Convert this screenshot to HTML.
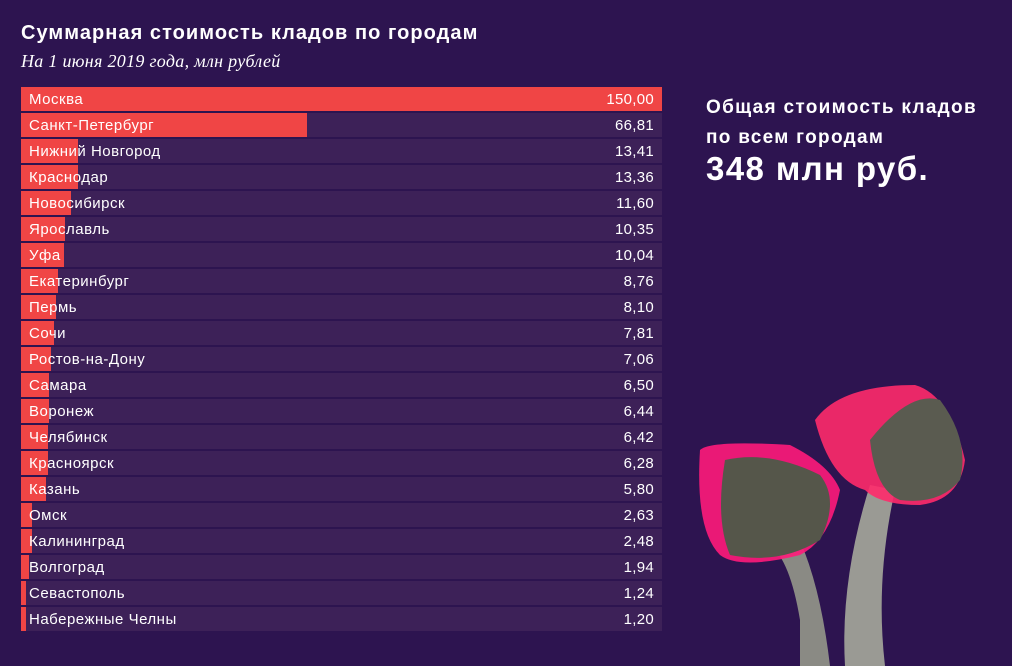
<!DOCTYPE html>
<html><head><meta charset="utf-8"><style>
body{margin:0;width:1012px;height:666px;background:#2d1450;font-family:"Liberation Sans",sans-serif;overflow:hidden;position:relative;color:#fff}
h1{position:absolute;left:21px;top:22px;margin:0;font-size:20px;font-weight:bold;letter-spacing:1.05px}
.sub{position:absolute;left:21px;top:51px;font-family:"Liberation Serif",serif;font-style:italic;font-size:18px;letter-spacing:0.3px}
.row{position:absolute;left:21px;width:641px;height:24px;background:#3d2158}
.bar{position:absolute;left:0;top:0;height:24px;background:#f04545}
.l{position:absolute;left:8px;top:4px;font-size:15px;letter-spacing:0.5px}
.v{position:absolute;right:8px;top:4px;font-size:15px;letter-spacing:0.3px}
.t{position:absolute;left:706px;top:93px;font-size:19px;font-weight:bold;line-height:30px;letter-spacing:1.3px}
.big{position:absolute;left:706px;top:150px;font-size:33px;font-weight:bold;letter-spacing:1.4px}
</style></head><body>
<h1>Суммарная стоимость кладов по городам</h1>
<div class="sub">На 1 июня 2019 года, млн рублей</div>
<div id="c"></div>
<div class="t">Общая стоимость кладов<br>по всем городам</div>
<div class="big">348 млн руб.</div>
<svg style="position:absolute;left:680px;top:380px" width="332" height="286">
<path d="M120 240 Q110 180 90 165 L115 150 Q140 200 150 286 L120 286Z" fill="#8a8a84"/>
<path d="M165 286 Q160 200 190 105 L215 110 Q195 200 205 286Z" fill="#9a9a94"/>
<path d="M20 70 Q30 60 110 65 Q150 85 160 110 Q150 160 120 175 Q60 190 40 175 Q15 150 20 70Z" fill="#ff1a7a" opacity="0.9"/>
<path d="M45 80 Q90 70 140 95 Q160 120 140 160 Q100 185 50 175 Q35 140 45 80Z" fill="#55564a"/>
<path d="M135 40 Q160 5 235 5 Q270 15 285 80 Q280 120 240 125 Q200 125 185 110 Q150 100 135 40Z" fill="#ff2a6a" opacity="0.9"/>
<path d="M190 60 Q230 10 260 20 Q290 60 280 100 Q260 125 220 120 Q195 110 190 60Z" fill="#5a5b50"/>
</svg>
<script>
var d=[["Москва","150,00"],["Санкт-Петербург","66,81"],["Нижний Новгород","13,41"],["Краснодар","13,36"],["Новосибирск","11,60"],["Ярославль","10,35"],["Уфа","10,04"],["Екатеринбург","8,76"],["Пермь","8,10"],["Сочи","7,81"],["Ростов-на-Дону","7,06"],["Самара","6,50"],["Воронеж","6,44"],["Челябинск","6,42"],["Красноярск","6,28"],["Казань","5,80"],["Омск","2,63"],["Калининград","2,48"],["Волгоград","1,94"],["Севастополь","1,24"],["Набережные Челны","1,20"]];
var h="";d.forEach(function(r,i){var w=parseFloat(r[1].replace(",","."))/150*641;
h+='<div class="row" style="top:'+(87+i*26)+'px"><div class="bar" style="width:'+Math.max(w,4)+'px"></div><span class="l">'+r[0]+'</span><span class="v">'+r[1]+'</span></div>';});
document.getElementById("c").innerHTML=h;
</script>
</body></html>
